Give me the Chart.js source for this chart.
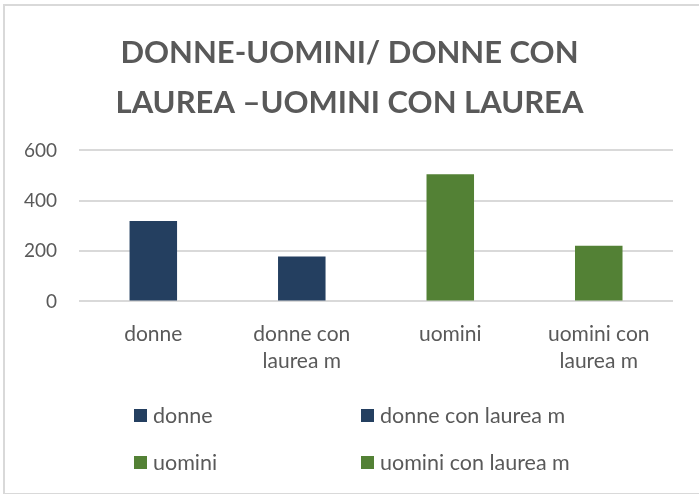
<!DOCTYPE html>
<html>
<head>
<meta charset="utf-8">
<script src="https://cdn.jsdelivr.net/npm/chart.js@4"></script>
<style>
  body { margin: 0; background: #fff; }
  #frame {
    position: absolute; left: 3px; top: 4px; width: 720px; height: 487px;
    border: 2px solid #d9d9d9; background: #fff;
  }
  #wrap { position: absolute; left: 0; top: 0; width: 699px; height: 494px; }
  #legend {
    position: absolute; left: 0; top: 402px; width: 699px;
    font-family: Lato, "Open Sans", sans-serif; font-size: 21.5px; color: #595959;
  }
  .item { position: absolute; display: flex; align-items: center; white-space: nowrap; line-height: 26px; }
  .box { width: 13px; height: 13px; margin-right: 6px; }
</style>
</head>
<body>
<div id="frame"></div>
<div id="wrap">
  <canvas id="chart" width="699" height="494"></canvas>
  <div id="legend"></div>
</div>
<script>
const titleLines = ["DONNE-UOMINI/ DONNE CON", "LAUREA \u2013UOMINI CON LAUREA"];
const categories = [["donne"], ["donne con", "laurea m"], ["uomini"], ["uomini con", "laurea m"]];
const legendNames = ["donne", "donne con laurea m", "uomini", "uomini con laurea m"];
const values = [320, 178, 505, 221];
const barColors = ["#243f60", "#243f60", "#538135", "#538135"];
const yTicks = [0, 200, 400, 600];

const font = "Lato, 'Open Sans', sans-serif";
const grey = "#595959";

const ctx = document.getElementById("chart");

// the title in the original sits centred on the whole frame, not on the padded box
const shiftTitle = {
  id: "shiftTitle",
  afterLayout(chart) {
    const t = chart.titleBlock;
    if (t) { t.left += 12; t.right += 12; }
  },
};

const chart = new Chart(ctx, {
  type: "bar",
  data: {
    labels: categories,
    datasets: [{
      data: values,
      backgroundColor: barColors,
      categoryPercentage: 1,
      barPercentage: 0.32,
    }],
  },
  options: {
    responsive: false,
    animation: false,
    layout: { padding: { left: 2, right: 26, top: 16, bottom: 108 } },
    plugins: {
      legend: { display: false },
      tooltip: { enabled: false },
      title: {
        display: true,
        text: titleLines,
        color: grey,
        font: { family: font, size: 31, weight: "bold", lineHeight: 1.62 },
        padding: { top: 12, bottom: 22 },
      },
    },
    scales: {
      x: {
        grid: { display: false },
        border: { display: false },
        ticks: { color: grey, font: { family: font, size: 21, lineHeight: 1.3 }, padding: 11, maxRotation: 0 },
      },
      y: {
        min: 0, max: 600,
        afterBuildTicks: (axis) => { axis.ticks = yTicks.map((v) => ({ value: v })); },
        grid: { color: "#d9d9d9", lineWidth: 2, drawTicks: false },
        border: { display: false },
        ticks: { color: grey, font: { family: font, size: 19 }, padding: 22 },
      },
    },
  },
  plugins: [shiftTitle],
});

// legend in two columns, like the original
const legend = document.getElementById("legend");
const colX = [134, 361];
const rowY = [0, 47];
legendNames.forEach((name, i) => {
  const item = document.createElement("div");
  item.className = "item";
  item.style.left = colX[i % 2] + "px";
  item.style.top = rowY[Math.floor(i / 2)] + "px";
  item.innerHTML = "<span class='box' style='background:" + barColors[i] + "'></span><span>" + name + "</span>";
  legend.appendChild(item);
});
</script>
</body>
</html>
